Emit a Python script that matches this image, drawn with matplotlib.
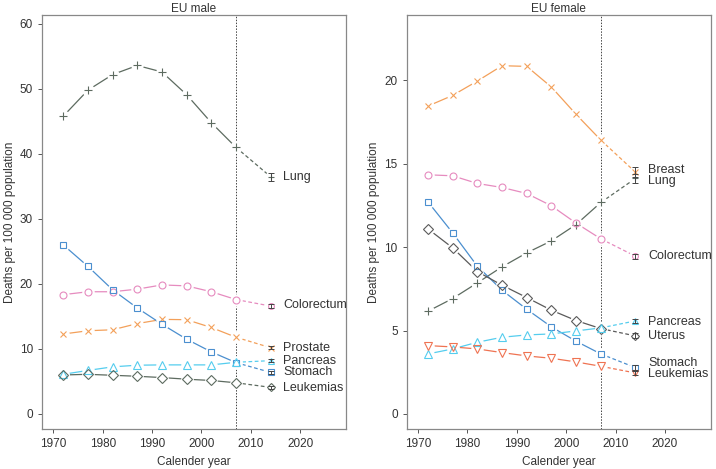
# EU cancer mortality trends with 2014 predictions

import numpy as np
import matplotlib.pyplot as plt

plt.rcParams['font.family'] = ['Liberation Sans', 'DejaVu Sans']

years = [1972, 1977, 1982, 1987, 1992, 1997, 2002, 2007]
pred_year = 2014

# male rates
male_names = ["Lung", "Colorectum", "Prostate", "Stomach", "Pancreas", "Leukemias"]
male_lung = [45.8, 49.8, 52.2, 53.6, 52.6, 49.1, 44.8, 41.0]
male_colorectum = [18.35, 18.8, 18.8, 19.2, 19.85, 19.7, 18.8, 17.6]
male_prostate = [12.3, 12.8, 12.95, 13.9, 14.55, 14.5, 13.3, 11.8]
male_stomach = [26.0, 22.7, 19.1, 16.3, 13.8, 11.5, 9.55, 7.9]
male_pancreas = [6.1, 6.7, 7.25, 7.5, 7.55, 7.55, 7.55, 7.95]
male_leukemias = [6.0, 6.1, 5.95, 5.8, 5.6, 5.35, 5.15, 4.8]
male_pred = [36.5, 16.6, 10.2, 6.4, 8.2, 4.1]
male_ci = [0.6, 0.25, 0.2, 0.2, 0.2, 0.2]
male_label_y = [36.5, 16.7, 10.2, 6.4, 8.1, 4.0]

# female rates
female_names = ["Breast", "Lung", "Colorectum", "Stomach", "Uterus", "Pancreas", "Leukemias"]
female_breast = [18.46, 19.1, 19.96, 20.88, 20.84, 19.6, 17.96, 16.42]
female_lung = [6.16, 6.92, 7.86, 8.82, 9.66, 10.38, 11.36, 12.68]
female_colorectum = [14.34, 14.28, 13.82, 13.58, 13.22, 12.48, 11.44, 10.5]
female_stomach = [12.72, 10.86, 8.86, 7.42, 6.28, 5.22, 4.36, 3.6]
female_uterus = [11.1, 9.96, 8.54, 7.72, 6.98, 6.22, 5.6, 5.12]
female_pancreas = [3.6, 3.9, 4.3, 4.6, 4.74, 4.8, 4.98, 5.16]
female_leukemias = [4.1, 4.02, 3.9, 3.68, 3.48, 3.34, 3.12, 2.86]
female_pred = [14.5, 14.12, 9.46, 2.78, 4.68, 5.58, 2.46]
female_ci = [0.3, 0.25, 0.15, 0.15, 0.15, 0.12, 0.12]
female_label_y = [14.6, 13.96, 9.46, 3.06, 4.66, 5.52, 2.38]

# styles
c_lung = "#5d6b60"
c_colo = "#e68bbf"
c_orange = "#f3a05a"
c_stom = "#4b8fcf"
c_panc = "#55cdee"
c_leuk_f = "#ef7352"
c_uter = "#5a5a5a"

male_series = [male_lung, male_colorectum, male_prostate, male_stomach, male_pancreas, male_leukemias]
male_style = [(c_lung, "+"), (c_colo, "o"), (c_orange, "x"), (c_stom, "s"), (c_panc, "^"), (c_lung, "D")]
female_series = [female_breast, female_lung, female_colorectum, female_stomach, female_uterus,
                 female_pancreas, female_leukemias]
female_style = [(c_orange, "x"), (c_lung, "+"), (c_colo, "o"), (c_stom, "s"), (c_uter, "D"),
                (c_panc, "^"), (c_leuk_f, "v")]
marker_size = {"+": 5.5, "o": 5, "x": 4.5, "s": 4.6, "^": 5.2, "v": 5.2, "D": 4.6}

fig = plt.figure(figsize=(7.16, 4.69), dpi=100)
ax1 = fig.add_axes([0.0587, 0.0846, 0.4246, 0.8834])
ax2 = fig.add_axes([0.568, 0.0846, 0.425, 0.8834])


def draw_panel(ax, names, series, style, pred, ci, label_y, title, ylim, yticks):
    for name, vals, (col, mk), p, e, ly in zip(names, series, style, pred, ci, label_y):
        msize = marker_size[mk]
        # solid line through observed years
        ax.plot(years, vals, color=col, lw=0.9, zorder=2)
        # dashed projection
        ax.plot([years[-1], pred_year], [vals[-1], p], color=col, lw=0.9,
                linestyle=(0, (3, 2)), zorder=2)
        # white halo to break lines around points (R type="b")
        ax.plot(years + [pred_year], vals + [p], linestyle="none", marker="o",
                ms=8, mfc="white", mec="white", zorder=3)
        ax.plot(years, vals, linestyle="none", marker=mk, ms=msize, mfc="none",
                mec=col, mew=0.8, zorder=4)
        ax.plot([pred_year], [p], linestyle="none", marker=mk, ms=msize - 0.8, mfc="none",
                mec=col, mew=0.8, zorder=4)
        ax.errorbar([pred_year], [p], yerr=[e], fmt="none", ecolor="#444444",
                    elinewidth=0.7, capsize=2, capthick=0.7, zorder=5)
        ax.text(2016.6, ly, name, fontsize=9, color="#333333", va="center", ha="left")

    ax.axvline(years[-1], color="#444444", lw=0.7, linestyle=(0, (1.5, 1.5)), zorder=1)
    ax.set_xlim(1967.7, 2029.3)
    ax.set_ylim(*ylim)
    ax.set_xticks([1970, 1980, 1990, 2000, 2010, 2020])
    ax.set_yticks(yticks)
    ax.tick_params(colors="#555555", labelcolor="#333333", labelsize=8.5, length=3, width=0.7)
    for s in ax.spines.values():
        s.set_color("#888888")
        s.set_linewidth(0.9)
    ax.set_title(title, fontsize=8.5, color="#333333", pad=1)
    ax.set_xlabel("Calender year", fontsize=8.5, color="#333333", labelpad=4)
    ax.set_ylabel("Deaths per 100 000 population", fontsize=8.5, color="#333333", labelpad=3)


draw_panel(ax1, male_names, male_series, male_style, male_pred, male_ci, male_label_y,
           "EU male", (-2.36, 61.36), [0, 10, 20, 30, 40, 50, 60])
draw_panel(ax2, female_names, female_series, female_style, female_pred, female_ci, female_label_y,
           "EU female", (-0.92, 23.92), [0, 5, 10, 15, 20])

plt.savefig("out.png", dpi=100)
